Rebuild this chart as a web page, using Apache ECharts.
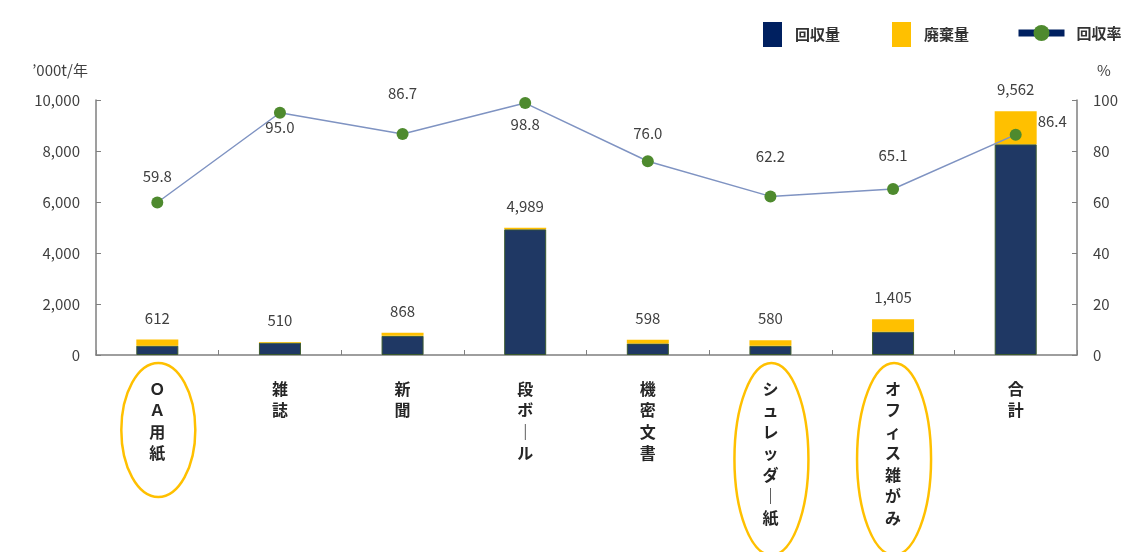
<!DOCTYPE html>
<html>
<head>
<meta charset="utf-8">
<script src="https://cdn.jsdelivr.net/npm/echarts@6/dist/echarts.min.js"></script>
<style>
  html, body { margin: 0; padding: 0; background: #fff; }
  #chart { width: 1126px; height: 552px; }
</style>
</head>
<body>
<div id="chart"></div>
<script>
// 古紙の回収量・廃棄量・回収率
const categories = ['ＯＡ用紙', '雑誌', '新聞', '段ボール', '機密文書', 'シュレッダー紙', 'オフィス雑がみ', '合計']
const collected = [366, 485, 753, 4929, 454, 361, 915, 8262] // 回収量
const discarded = [246, 25, 115, 60, 144, 219, 490, 1300] // 廃棄量
const totals = [612, 510, 868, 4989, 598, 580, 1405, 9562]
const rates = [59.8, 95.0, 86.7, 98.8, 76.0, 62.2, 65.1, 86.4] // 回収率 %
const leftTicks = [0, 2000, 4000, 6000, 8000, 10000]
const rightTicks = [0, 20, 40, 60, 80, 100]
const circled = ['ＯＡ用紙', 'シュレッダー紙', 'オフィス雑がみ']

const FONT = '"Noto Sans CJK JP", "Noto Sans", sans-serif'
const TXT = '#404040'

// ラベルの置き場所（点ごと）
const rateLabelLayout = [
	{ position: 'top', distance: 13 },
	{ position: 'bottom', distance: 1 },
	{ position: 'top', distance: 27 },
	{ position: 'bottom', distance: 8 },
	{ position: 'top', distance: 14 },
	{ position: 'top', distance: 27 },
	{ position: 'top', distance: 20 },
	{ position: 'right', distance: 16, offset: [0, -13] }
]

function comma(v) {
	return String(v).replace(/\B(?=(\d{3})+(?!\d))/g, ',')
}

const chart = echarts.init(document.getElementById('chart'), null, { renderer: 'canvas' })

chart.setOption({
	animation: false,
	backgroundColor: '#fff',
	textStyle: { fontFamily: FONT },
	legend: [
		{
			data: [
				{ name: '回収量', icon: 'rect', itemStyle: { color: '#002060', borderWidth: 0 } },
				{ name: '廃棄量', icon: 'rect', itemStyle: { color: '#FFC000', borderWidth: 0 } }
			],
			left: 758,
			top: 17,
			itemWidth: 19,
			itemHeight: 25,
			itemGap: 52,
			textStyle: { fontSize: 15, fontWeight: 'bold', color: '#333', fontFamily: FONT, padding: [0, 0, 0, 8] }
		},
		{
			data: ['回収率'],
			left: 1010,
			top: 20,
			itemWidth: 46,
			itemHeight: 20,
			lineStyle: { width: 7, color: '#002060' },
			textStyle: { fontSize: 15, fontWeight: 'bold', color: '#333', fontFamily: FONT, padding: [0, 0, 0, 7] }
		}
	],
	grid: { left: 96, right: 49, top: 100, bottom: 197 },
	xAxis: {
		type: 'category',
		data: categories,
		axisLine: { lineStyle: { color: '#7f7f7f', width: 1.5 } },
		axisTick: { show: true, inside: true, length: 5, interval: 0, lineStyle: { color: '#7f7f7f' } },
		axisLabel: {
			interval: 0,
			margin: 23,
			fontSize: 16,
			fontWeight: 'bold',
			color: '#262626',
			lineHeight: 21.5,
			fontFamily: FONT,
			formatter: (v) => v.split('').map((c) => (c === 'ー' ? '｜' : c)).join('\n')
		}
	},
	yAxis: [
		{
			type: 'value',
			min: 0,
			max: leftTicks[leftTicks.length - 1],
			interval: leftTicks[1] - leftTicks[0],
			name: '’000t/年',
			nameLocation: 'end',
			nameGap: 22,
			nameTextStyle: { align: 'right', padding: [0, 8, 0, 0], fontSize: 15, color: TXT, fontFamily: FONT },
			axisLine: { show: true, lineStyle: { color: '#7f7f7f', width: 1.5 } },
			axisTick: { show: true, inside: true, length: 5, lineStyle: { color: '#7f7f7f' } },
			axisLabel: { fontSize: 15, color: TXT, margin: 16, formatter: comma, fontFamily: FONT },
			splitLine: { show: false }
		},
		{
			type: 'value',
			min: 0,
			max: rightTicks[rightTicks.length - 1],
			interval: rightTicks[1] - rightTicks[0],
			name: '%',
			nameLocation: 'end',
			nameGap: 22,
			nameTextStyle: { align: 'left', padding: [0, 0, 0, 20], fontSize: 15, color: TXT, fontFamily: FONT },
			axisLine: { show: true, lineStyle: { color: '#7f7f7f', width: 1.5 } },
			axisTick: { show: true, inside: true, length: 5, lineStyle: { color: '#7f7f7f' } },
			axisLabel: { fontSize: 15, color: TXT, margin: 16, fontFamily: FONT },
			splitLine: { show: false }
		}
	],
	series: [
		{
			name: '回収量',
			type: 'bar',
			stack: 'paper',
			barWidth: 42,
			data: collected,
			itemStyle: { color: '#1F3864', borderColor: '#3B5A2E', borderWidth: 1 }
		},
		{
			name: '廃棄量',
			type: 'bar',
			stack: 'paper',
			barWidth: 42,
			data: discarded,
			itemStyle: { color: '#FFC000' },
			label: {
				show: true,
				position: 'top',
				distance: 14,
				fontSize: 15,
				color: TXT,
				fontFamily: FONT,
				formatter: (p) => comma(totals[p.dataIndex])
			}
		},
		{
			name: '回収率',
			type: 'line',
			yAxisIndex: 1,
			z: 5,
			data: rates.map((v, i) => ({ value: v, label: rateLabelLayout[i] })),
			symbol: 'circle',
			symbolSize: 12,
			lineStyle: { color: '#7F93C2', width: 1.5 },
			itemStyle: { color: '#4E8A2E' },
			label: {
				show: true,
				fontSize: 15,
				color: TXT,
				fontFamily: FONT,
				formatter: (p) => p.value.toFixed(1)
			}
		}
	]
})

// 注目カテゴリを楕円で囲む
const base = chart.convertToPixel({ yAxisIndex: 0 }, 0)
const ellipses = circled.map((name) => {
	const cx = chart.convertToPixel({ xAxisIndex: 0 }, name)
	const ry = name.length <= 4 ? 67 : 96
	return {
		type: 'ellipse',
		shape: { cx: cx + 1, cy: base + 8 + ry, rx: 37, ry: ry },
		style: { fill: 'none', stroke: '#FFC000', lineWidth: 2.5 },
		z: 10
	}
})
chart.setOption({ graphic: ellipses })
</script>
</body>
</html>
